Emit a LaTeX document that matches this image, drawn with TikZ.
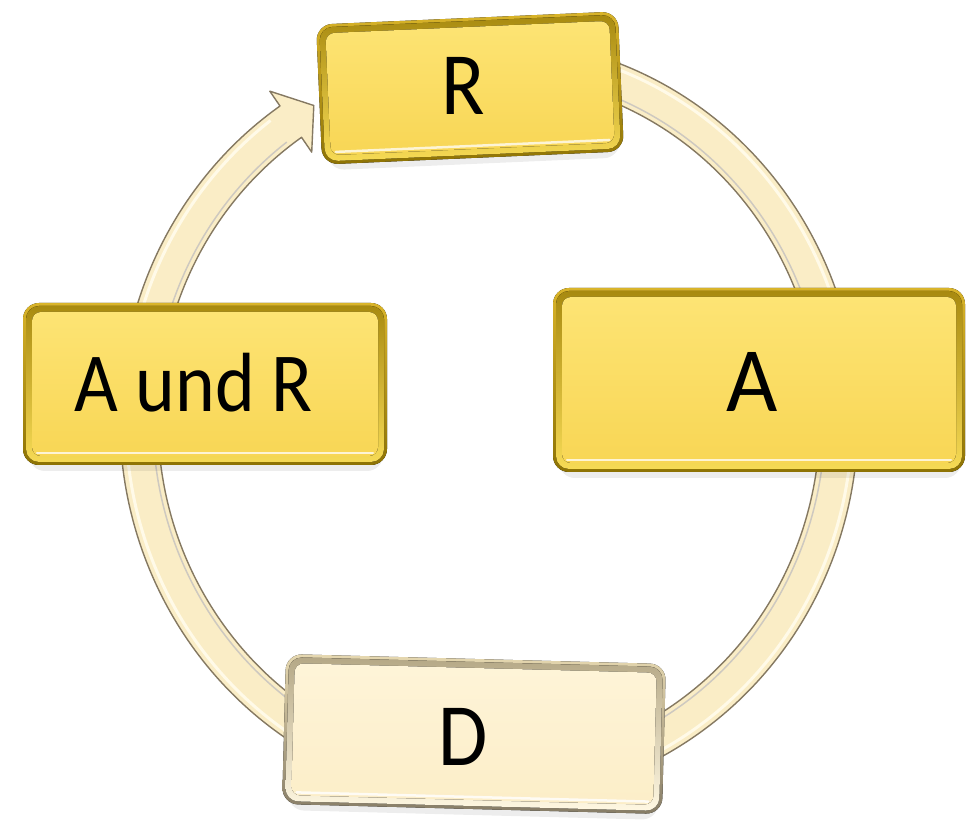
\documentclass[tikz,border=0pt]{standalone}
\usepackage{fontspec}
\setmainfont{Carlito}
\definecolor{goldA}{HTML}{D9B42A}
\definecolor{goldB}{HTML}{8E7304}
\definecolor{goldC}{HTML}{A88A10}
\definecolor{goldD}{HTML}{F6DA55}
\definecolor{goldE}{HTML}{FDE474}
\definecolor{goldF}{HTML}{F8D655}
\definecolor{creamA}{HTML}{E6D8B0}
\definecolor{creamB}{HTML}{867C66}
\definecolor{creamC}{HTML}{B5A886}
\definecolor{creamD}{HTML}{FFF8E2}
\definecolor{creamE}{HTML}{FEF4D8}
\definecolor{creamF}{HTML}{FCEEC8}
\definecolor{ringfill}{HTML}{FAEDC6}
\definecolor{ringedge}{HTML}{857962}
\definecolor{ringlight}{HTML}{FFFAE8}
% bevelled box: name, x, y, rotation, half width, half height, palette
\newcommand\cyclebox[7]{%
  \begin{scope}[shift={(#2,#3)}, rotate=#4]
    \fill[black, opacity=0.07, rounded corners=16] (-#5+6,-#6-6) rectangle (#5-4,-#6+20);
    \fill[#7frame, rounded corners=16] (-#5,-#6) rectangle (#5,#6);
    \fill[#7rim, rounded corners=13] (-#5+3,-#6+3) rectangle (#5-3,#6-3);
    \fill[#7face, rounded corners=9] (-#5+9,-#6+9) rectangle (#5-9,#6-9);
    \draw[#7glint] (-#5+14,-#6+12) -- (#5-14,-#6+12);
    \coordinate (#1) at (0,0);
  \end{scope}}
\begin{document}
\begin{tikzpicture}[x=1pt, y=1pt,
  goldframe/.style={top color=goldA, bottom color=goldB},
  goldrim/.style={top color=goldC, bottom color=goldD},
  goldface/.style={top color=goldE, bottom color=goldF},
  goldglint/.style={draw=white, opacity=0.75, line width=2.5pt, line cap=round},
  creamframe/.style={top color=creamA, bottom color=creamB},
  creamrim/.style={top color=creamC, bottom color=creamD},
  creamface/.style={top color=creamE, bottom color=creamF},
  creamglint/.style={draw=white, opacity=0.8, line width=2.5pt, line cap=round},
  label/.style={inner sep=0pt, anchor=base, text=black, xscale=0.9,
    font=\fontsize{89}{100}\selectfont},
  ringband/.style={fill=ringfill, draw=ringedge, line width=1.4pt, line join=round},
  ringshine/.style={draw=ringlight, line width=3pt}
]
\useasboundingbox (0,0) rectangle (968,825);

% circular arrow running clockwise behind the boxes
\coordinate (ctr) at (489,405);
\coordinate (barbout) at ([shift={(489,405)}]124.5:387 and 399);
\coordinate (barbin) at ([shift={(489,405)}]124.5:313 and 325);
\coordinate (tip) at (313.8,719.5);
\draw[ringband]
  ([shift={(489,405)}]75:369 and 381)
  arc[start angle=75, end angle=-235.5, x radius=369, y radius=381]
  -- (barbout) -- (tip) -- (barbin)
  -- ([shift={(489,405)}]124.5:331 and 343)
  arc[start angle=124.5, end angle=435, x radius=331, y radius=343]
  -- cycle;
\draw[ringshine]
  ([shift={(489,405)}]75:363 and 375)
  arc[start angle=75, end angle=-233, x radius=363, y radius=375];
\draw[ringedge!40, line width=1.5pt]
  ([shift={(489,405)}]75:336 and 348)
  arc[start angle=75, end angle=-233, x radius=336, y radius=348];

% boxes
\cyclebox{boxR}{470}{737}{2.5}{151}{70}{gold}
\cyclebox{boxAR}{205}{441}{0}{182}{81}{gold}
\cyclebox{boxA}{759}{445}{0}{206}{92}{gold}
\cyclebox{boxD}{474}{91}{-1.5}{190}{75}{cream}

% labels
\node[label] (R) at (463,710) {R};
\node[label, font=\fontsize{84}{100}\selectfont] (AR) at (194,413) {A und R};
\node[label, xscale=1.07, font=\fontsize{92}{100}\selectfont] (A) at (752,413) {A};
\node[label] (D) at (463,60) {D};
\end{tikzpicture}
\end{document}
